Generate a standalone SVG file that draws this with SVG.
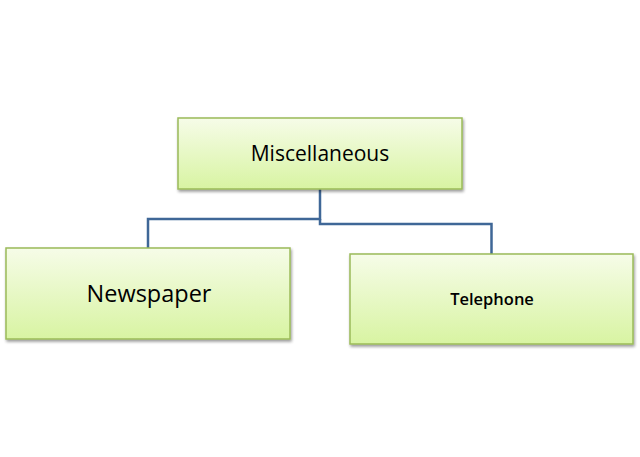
<svg xmlns="http://www.w3.org/2000/svg" width="640" height="457" viewBox="0 0 640 457">
<defs>
<linearGradient id="g" x1="0" y1="0" x2="0" y2="1">
<stop offset="0" stop-color="#F6FCE8"/>
<stop offset="1" stop-color="#D8F4A2"/>
</linearGradient>
<filter id="sh" x="-10%" y="-10%" width="120%" height="130%">
<feGaussianBlur in="SourceAlpha" stdDeviation="1.5"/>
<feOffset dx="1" dy="2" result="b"/>
<feComponentTransfer><feFuncA type="linear" slope="0.4"/></feComponentTransfer>
<feMerge><feMergeNode/><feMergeNode in="SourceGraphic"/></feMerge>
</filter>
</defs>
<style>
.box{fill:url(#g);stroke:#9BBB59;stroke-width:1.5;filter:url(#sh)}
.t{font-family:"Open Sans","Liberation Sans",sans-serif;fill:#000;text-anchor:middle}
.c{fill:none;stroke:#3F6797;stroke-width:2.5}
</style>
<rect width="640" height="457" fill="#fff"/>
<g id="connectors">
<path class="c" d="M320 189 V219 H148 V248"/>
<path class="c" d="M320 219 V224 H491.5 V254"/>
</g>
<g id="miscellaneous">
<rect class="box" x="178" y="118" width="284" height="71"/>
<text class="t" x="320" y="161" font-size="21">Miscellaneous</text>
</g>
<g id="newspaper">
<rect class="box" x="6" y="248" width="284" height="91"/>
<text class="t" x="149" y="302" font-size="23.5">Newspaper</text>
</g>
<g id="telephone">
<rect class="box" x="350" y="254" width="283" height="90"/>
<text class="t" x="492" y="305" font-size="16.5" font-weight="600">Telephone</text>
</g>
</svg>
